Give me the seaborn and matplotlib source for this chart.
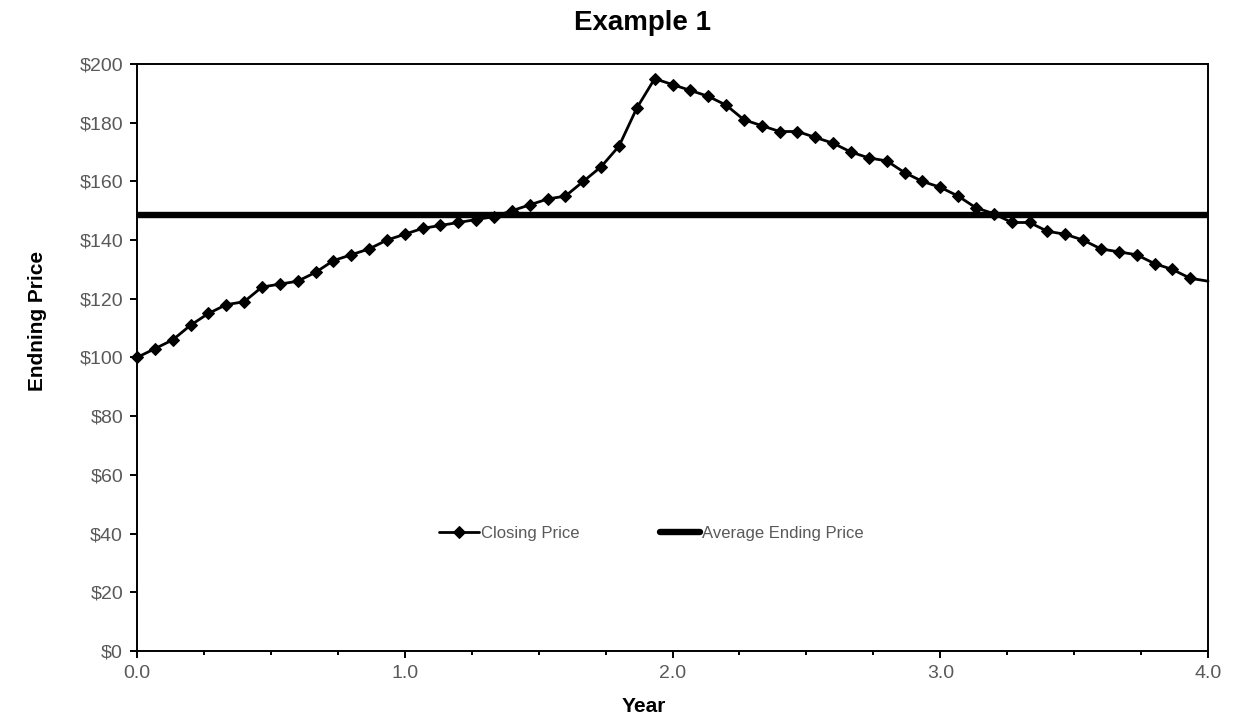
import numpy as np
import pandas as pd
import seaborn as sns
import matplotlib
matplotlib.use("Agg")
import matplotlib.pyplot as plt
from matplotlib.ticker import MultipleLocator, StrMethodFormatter

# closing price, one point every 1/15 of a year
closing_price = [100, 103, 106, 111, 115, 118, 119, 124, 125, 126,
                 129, 133, 135, 137, 140, 142, 144, 145, 146, 147,
                 148, 150, 152, 154, 155, 160, 165, 172, 185, 195,
                 193, 191, 189, 186, 181, 179, 177, 177, 175, 173,
                 170, 168, 167, 163, 160, 158, 155, 151, 149, 146,
                 146, 143, 142, 140, 137, 136, 135, 132, 130, 127, 126]
n_steps = len(closing_price) - 1
year = [i * 4.0 / n_steps for i in range(len(closing_price))]
average_ending_price = 148.7

sns.set_theme(style="ticks")
plt.rcParams['font.family'] = ['Liberation Sans', 'DejaVu Sans']

df = pd.DataFrame({'Year': year, 'Closing Price': closing_price})

fig = plt.figure(figsize=(12.58, 7.25), dpi=100)
ax = fig.add_axes([0.1089, 0.1021, 0.8514, 0.8096])

sns.lineplot(data=df, x='Year', y='Closing Price', ax=ax, color='black',
             linewidth=2.0, marker='D', markersize=6.5, markeredgecolor='black',
             markevery=list(range(n_steps)), clip_on=False,
             label='Closing Price', zorder=3)
ax.axhline(average_ending_price, color='black', linewidth=4.6,
           label='Average Ending Price', zorder=2)

ax.set_xlim(0, 4)
ax.set_ylim(0, 200)
ax.xaxis.set_major_locator(MultipleLocator(1.0))
ax.xaxis.set_minor_locator(MultipleLocator(0.25))
ax.xaxis.set_major_formatter(StrMethodFormatter('{x:.1f}'))
ax.yaxis.set_major_locator(MultipleLocator(20))
ax.yaxis.set_major_formatter(StrMethodFormatter('${x:,.0f}'))

for side in ['top', 'right', 'bottom', 'left']:
    ax.spines[side].set_visible(True)
    ax.spines[side].set_color('black')
    ax.spines[side].set_linewidth(1.4)

ax.tick_params(axis='both', which='major', direction='out', length=5, width=1.4,
               color='black', labelsize=14, labelcolor='#595959', pad=5)
ax.tick_params(axis='x', which='minor', direction='out', length=3, width=1.4, color='black')

# Excel centres the title and axis titles on the chart area, not the plot area
fig.text(643 / 1258, 1 - 23 / 725, 'Example 1', fontsize=20, fontweight='bold',
         color='black', ha='center', va='center')
ax.set_xlabel('Year', fontsize=15, fontweight='bold', color='black')
ax.xaxis.set_label_coords(0.4734, -0.079)
ax.set_ylabel('Endning Price', fontsize=15, fontweight='bold', color='black')
ax.yaxis.set_label_coords(-0.084, 0.562)

leg = ax.legend(ncol=2, frameon=False, loc='center', bbox_to_anchor=(0.48, 0.2),
                handlelength=2.4, handletextpad=0.12, columnspacing=4.8,
                fontsize=12)
for t in leg.get_texts():
    t.set_color('#595959')

fig.savefig('out.png', dpi=100)
